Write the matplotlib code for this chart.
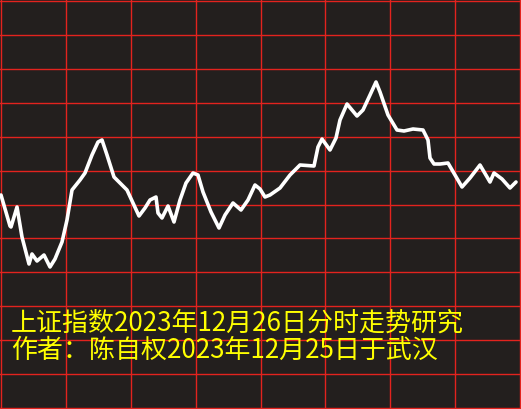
import numpy as np
import matplotlib
matplotlib.use('Agg')
import matplotlib.pyplot as plt

plt.rcParams['font.family'] = ['Noto Sans CJK SC', 'DejaVu Sans']

# intraday trace, x across the 8 half-hour columns (0-520), level in chart units
t = [1, 10, 11, 17, 22, 29, 32, 37, 44, 50, 55, 62, 67, 72, 80, 85, 92, 98, 102,
     107, 114, 120, 127, 133, 139, 145, 150, 156, 158, 162, 168, 174, 180, 186,
     193, 198, 203, 211, 219, 225, 233, 241, 248, 255, 260, 265, 270, 280, 290,
     300, 314, 318, 322, 330, 336, 340, 347, 357, 363, 370, 376, 380, 388, 397,
     404, 413, 423, 428, 430, 434, 440, 448, 455, 462, 470, 480, 490, 494, 502,
     510, 516]
level = [214, 183, 182, 202, 172, 145, 155, 148, 154, 142, 150, 167, 189, 219,
         229, 236, 254, 267, 269, 254, 232, 226, 219, 206, 193, 201, 209, 212,
         196, 191, 203, 187, 209, 226, 236, 234, 217, 197, 181, 194, 206, 199,
         209, 224, 220, 212, 214, 221, 234, 244, 243, 262, 270, 259, 271, 289,
         305, 293, 299, 314, 327, 317, 294, 279, 278, 280, 279, 269, 251, 245,
         245, 246, 234, 222, 231, 244, 227, 236, 230, 221, 227]

title1 = '上证指数2023年12月26日分时走势研究'
title2 = '作者：陈自权2023年12月25日于武汉'

bg = '#231f1e'
red = '#e3231e'

fig = plt.figure(figsize=(5.21, 4.09), dpi=100, facecolor=bg)
ax = fig.add_axes([0, 0, 1, 1])
ax.set_facecolor(bg)
ax.set_xlim(0, 521)
ax.set_ylim(0, 409)

ax.set_xticks(np.linspace(1, 520, 9))
ax.set_yticks(np.linspace(1, 408, 13))
ax.grid(True, color=red, linewidth=1.0)
ax.tick_params(length=0, labelbottom=False, labelleft=False)
for s in ax.spines.values():
    s.set_visible(False)

ax.plot(t, level, color='white', linewidth=2.6, solid_joinstyle='round',
        solid_capstyle='round')

ax.text(11, 86, title1, color='#ffff00', fontsize=18.7, va='center', ha='left')
ax.text(11, 59, title2, color='#ffff00', fontsize=18.7, va='center', ha='left')

fig.savefig('out.png', dpi=100, facecolor=bg)
